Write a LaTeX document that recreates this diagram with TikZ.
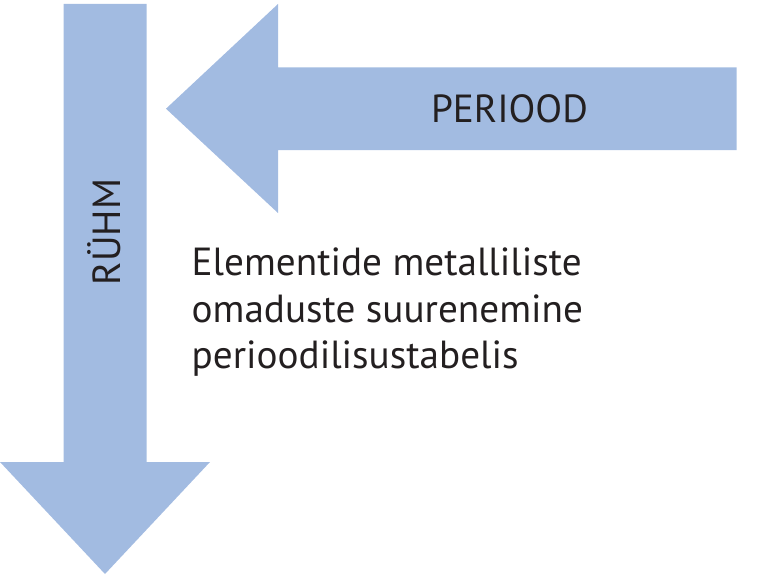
\documentclass[tikz,border=0pt]{standalone}
\usepackage{fontspec}
\setmainfont{PT Sans}
\definecolor{arrowblue}{RGB}{162,187,225}
\definecolor{txt}{RGB}{35,31,32}
\begin{document}
\begin{tikzpicture}[x=1pt,y=-1pt,
  lbl/.style={inner sep=0pt,outer sep=0pt,text=txt,font=\fontsize{39.2}{46}\selectfont},
  bigarrow/.style={fill=arrowblue,draw=none}]
\useasboundingbox (0,0) rectangle (773,575);
% vertical arrow
\fill[bigarrow] (63.5,4) -- (146.7,4) -- (146.7,462) -- (210,462) -- (105,574) -- (0,462) -- (63.5,462) -- cycle;
% horizontal arrow
\fill[bigarrow] (736.7,67.5) -- (278,67.5) -- (278,4) -- (166,108.7) -- (278,213) -- (278,150) -- (736.7,150) -- cycle;
\node[lbl,anchor=base west] (period) at (431,123) {PERIOOD};
\node[lbl,anchor=base west,rotate=90] (ruhm) at (120,285) {RÜHM};
\node[lbl,anchor=base west] (l1) at (191.7,275.5) {Elementide metalliliste};
\node[lbl,anchor=base west] (l2) at (191.7,322) {omaduste suurenemine};
\node[lbl,anchor=base west] (l3) at (191.7,368.5) {perioodilisustabelis};
\end{tikzpicture}
\end{document}
